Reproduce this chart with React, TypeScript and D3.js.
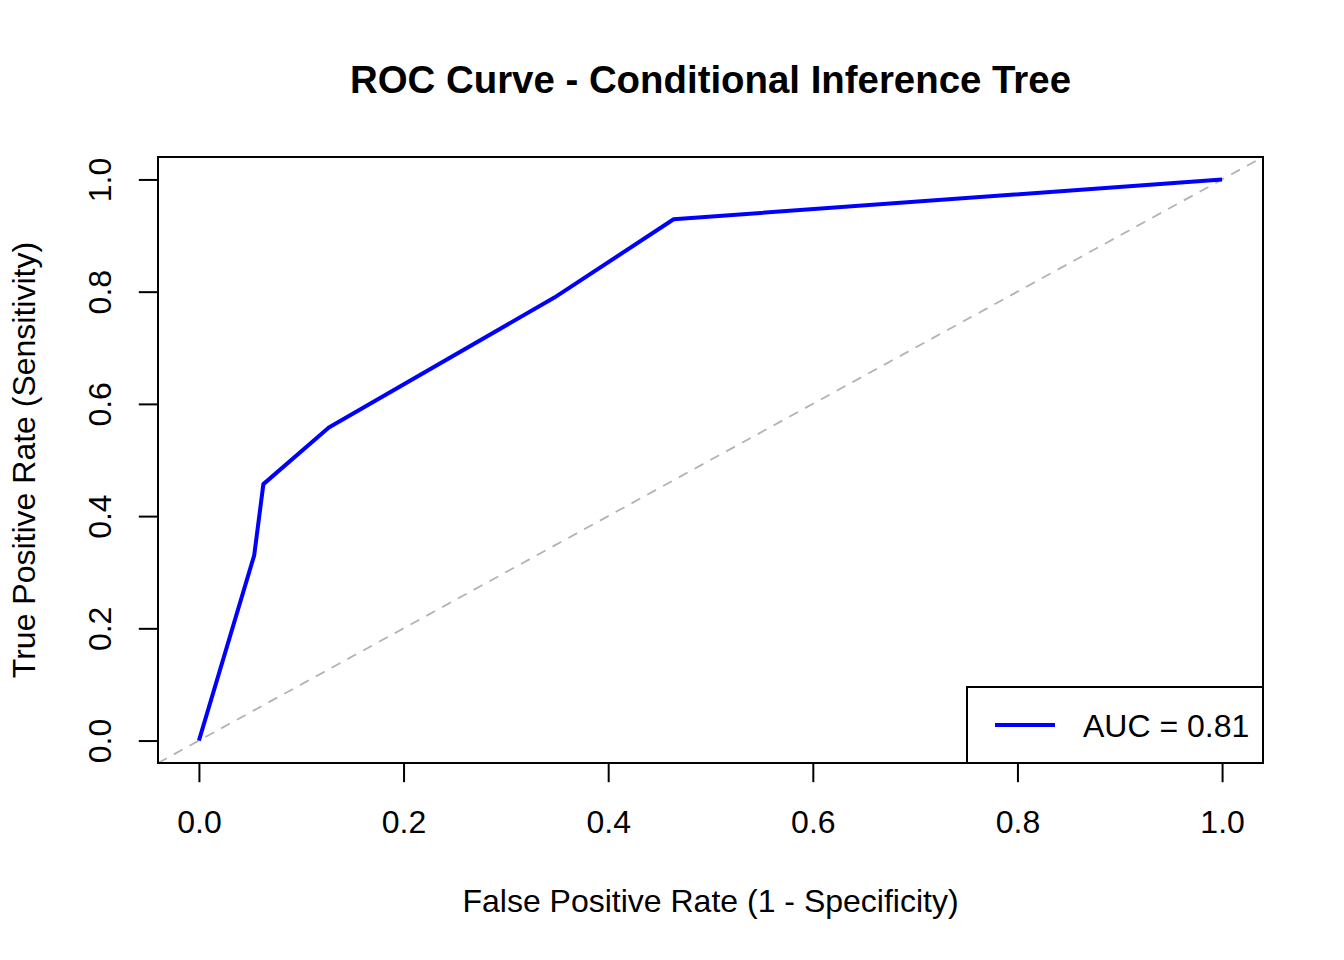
import * as d3 from "d3";
import React from "react";

// ROC points
const fpr = [0, 0.054, 0.063, 0.127, 0.347, 0.464, 1];
const tpr = [0, 0.33, 0.457, 0.558, 0.789, 0.929, 1];
const xTicks = [0, 0.2, 0.4, 0.6, 0.8, 1.0];
const yTicks = [0, 0.2, 0.4, 0.6, 0.8, 1.0];
const aucLabel = "AUC = 0.81";

const W = 1344;
const H = 960;
const margin = { top: 157, right: 81, bottom: 197, left: 158 };
const font = "'Liberation Sans', Arial, Helvetica, sans-serif";
const fs = 32;
const tick = 19.2;

export default function App() {
    const svgRef = React.useRef<SVGSVGElement>(null);

    React.useEffect(() => {
        const svg = d3.select(svgRef.current);
        svg.selectAll("*").remove();

        const x0 = margin.left, x1 = W - margin.right;
        const y0 = H - margin.bottom, y1 = margin.top;

        // R pads the range by 4% on each side
        let xScale = d3.scaleLinear().domain([-0.04, 1.04]).range([x0, x1]);
        let yScale = d3.scaleLinear().domain([-0.04, 1.04]).range([y0, y1]);

        svg.append("rect").attr("width", W).attr("height", H).attr("fill", "white");

        svg.append("defs").append("clipPath").attr("id", "plotclip")
            .append("rect").attr("x", x0).attr("y", y1).attr("width", x1 - x0).attr("height", y0 - y1);

        // diagonal reference line
        svg.append("line")
            .attr("clip-path", "url(#plotclip)")
            .attr("x1", xScale(-0.04)).attr("y1", yScale(-0.04))
            .attr("x2", xScale(1.04)).attr("y2", yScale(1.04))
            .attr("stroke", "#b3b3b3").attr("stroke-width", 1.8)
            .attr("stroke-dasharray", "10,8");

        const line = d3.line<number>()
            .x((d, i) => xScale(fpr[i]))
            .y((d) => yScale(d));

        svg.append("path")
            .datum(tpr)
            .attr("d", line)
            .attr("fill", "none")
            .attr("stroke", "#0000ff")
            .attr("stroke-width", 4)
            .attr("stroke-linejoin", "round");

        // x axis
        let xAxis = d3.axisBottom(xScale).tickValues(xTicks).tickFormat(d3.format(".1f"))
            .tickSizeInner(tick).tickSizeOuter(0).tickPadding(28);
        let xg = svg.append("g").attr("transform", "translate(0," + y0 + ")").call(xAxis);
        xg.select(".domain").remove();
        xg.selectAll("line").attr("stroke-width", 2);
        xg.selectAll("text").attr("font-size", fs).attr("font-family", font).attr("fill", "black");

        // y axis
        let yAxis = d3.axisLeft(yScale).tickValues(yTicks).tickFormat(d3.format(".1f"))
            .tickSizeInner(tick).tickSizeOuter(0).tickPadding(0);
        let yg = svg.append("g").attr("transform", "translate(" + x0 + ",0)").call(yAxis);
        yg.select(".domain").remove();
        yg.selectAll("line").attr("stroke-width", 2);
        yg.selectAll("text")
            .attr("font-size", fs).attr("font-family", font).attr("fill", "black")
            .attr("x", null).attr("dy", null)
            .attr("text-anchor", "middle")
            .attr("transform", "translate(-47,0) rotate(-90)");

        // box
        svg.append("rect")
            .attr("x", x0).attr("y", y1).attr("width", x1 - x0).attr("height", y0 - y1)
            .attr("fill", "none").attr("stroke", "black").attr("stroke-width", 2);

        // legend
        const lg = svg.append("g");
        lg.append("rect")
            .attr("x", 967).attr("y", 687).attr("width", x1 - 967).attr("height", y0 - 687)
            .attr("fill", "white").attr("stroke", "black").attr("stroke-width", 2);
        lg.append("line")
            .attr("x1", 995).attr("x2", 1055).attr("y1", 725).attr("y2", 725)
            .attr("stroke", "#0000ff").attr("stroke-width", 4);
        lg.append("text")
            .attr("x", 1083).attr("y", 737)
            .attr("font-size", fs).attr("font-family", font)
            .text(aucLabel);

        // titles
        svg.append("text")
            .attr("x", (x0 + x1) / 2).attr("y", 93)
            .attr("text-anchor", "middle")
            .attr("font-size", 38.4).attr("font-weight", "bold").attr("font-family", font)
            .text("ROC Curve - Conditional Inference Tree");

        svg.append("text")
            .attr("x", (x0 + x1) / 2).attr("y", 912)
            .attr("text-anchor", "middle")
            .attr("font-size", fs).attr("font-family", font)
            .text("False Positive Rate (1 - Specificity)");

        svg.append("text")
            .attr("transform", "translate(35," + (y0 + y1) / 2 + ") rotate(-90)")
            .attr("text-anchor", "middle")
            .attr("font-size", fs).attr("font-family", font)
            .text("True Positive Rate (Sensitivity)");
    }, []);

    return <svg ref={svgRef} width={W} height={H}
        style={{ position: "absolute", left: 0, top: 0, display: "block" }}></svg>;
}
